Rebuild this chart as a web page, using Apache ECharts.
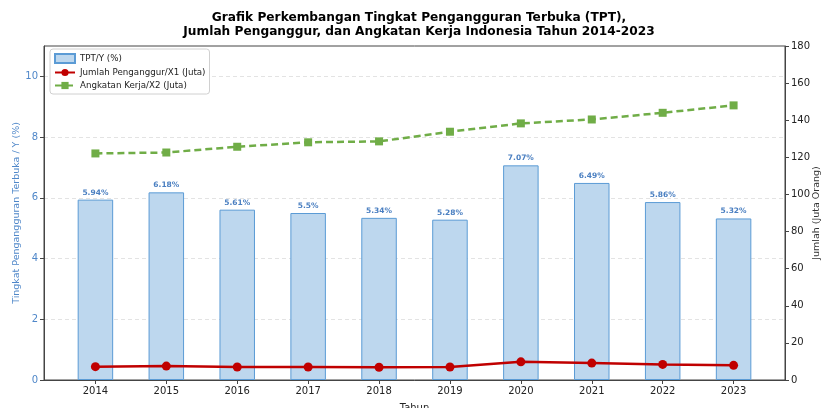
<!DOCTYPE html>
<html>
<head>
<meta charset="utf-8">
<script src="https://cdn.jsdelivr.net/npm/echarts@6/dist/echarts.min.js"></script>
<style>
html,body{margin:0;padding:0;background:#fff;}
#main{width:821px;height:408px;}
</style>
</head>
<body>
<div id="main"></div>
<script>
const years = ['2014','2015','2016','2017','2018','2019','2020','2021','2022','2023'];
const tpt = [5.94, 6.18, 5.61, 5.5, 5.34, 5.28, 7.07, 6.49, 5.86, 5.32];
const penganggur = [7.2, 7.5, 7.0, 7.0, 6.9, 7.0, 9.8, 9.1, 8.4, 7.9];
const angkatanKerja = [122.1, 122.6, 125.7, 128.1, 128.6, 133.8, 138.3, 140.4, 144.0, 148.0];
const leftTicks = [0, 2, 4, 6, 8, 10];

const idx = years.map((_, i) => i);
const font = 'DejaVu Sans';
const blueText = '#4f87c9';

const chart = echarts.init(document.getElementById('main'), null, {renderer: 'canvas'});
chart.setOption({
  animation: false,
  backgroundColor: '#fff',
  textStyle: {fontFamily: font},
  title: {
    text: 'Grafik Perkembangan Tingkat Pengangguran Terbuka (TPT),\nJumlah Penganggur, dan Angkatan Kerja Indonesia Tahun 2014-2023',
    left: 414, top: 6, textAlign: 'center',
    textStyle: {fontFamily: font, fontSize: 12.2, fontWeight: 'bold', color: '#000', lineHeight: 14}
  },
  legend: {
    left: 50, top: 49, orient: 'vertical',
    backgroundColor: '#fff', borderColor: '#d0d0d0', borderWidth: 1, borderRadius: 3,
    padding: [4, 4, 4, 4], itemGap: 4, itemWidth: 20, itemHeight: 9,
    textStyle: {fontFamily: font, fontSize: 8.7, color: '#222'},
    data: [
      {name: 'TPT/Y (%)', icon: 'rect'},
      {name: 'Jumlah Penganggur/X1 (Juta)'},
      {name: 'Angkatan Kerja/X2 (Juta)'}
    ]
  },
  grid: {left: 44, right: 36, top: 46, bottom: 28, outerBoundsMode: 'none', containLabel: false,
         show: true, borderColor: '#444', borderWidth: 1, backgroundColor: 'transparent'},
  xAxis: {
    type: 'value', min: -0.725, max: 9.725,
    name: 'Tahun', nameLocation: 'middle', nameGap: 23, nameMoveOverlap: false,
    nameTextStyle: {fontFamily: font, fontSize: 10, color: '#222'},
    axisLine: {show: true, onZero: false, lineStyle: {color: '#444'}},
    axisTick: {show: true, customValues: idx, length: 4, lineStyle: {color: '#444'}},
    axisLabel: {customValues: idx, formatter: v => years[Math.round(v)], fontFamily: font, fontSize: 10, color: '#222', margin: 6},
    splitLine: {show: false}
  },
  yAxis: [
    {
      type: 'value', min: 0, max: 11, interval: 2, position: 'left',
      name: 'Tingkat Pengangguran Terbuka / Y (%)', nameLocation: 'middle', nameGap: 22, nameRotate: 90,
      nameMoveOverlap: false,
      nameTextStyle: {fontFamily: font, fontSize: 9.5, color: blueText},
      axisLine: {show: true, onZero: false, lineStyle: {color: '#444'}},
      axisTick: {show: true, customValues: leftTicks, length: 4, lineStyle: {color: '#444'}},
      axisLabel: {customValues: leftTicks, fontFamily: font, fontSize: 10, color: blueText, margin: 6},
      splitLine: {show: true, lineStyle: {color: '#e3e3e3', type: [4, 3], width: 1}}
    },
    {
      type: 'value', min: 0, max: 180, interval: 20, position: 'right',
      name: 'Jumlah (Juta Orang)', nameLocation: 'middle', nameGap: 27, nameRotate: 90,
      nameMoveOverlap: false,
      nameTextStyle: {fontFamily: font, fontSize: 9.5, color: '#333'},
      axisLine: {show: true, onZero: false, lineStyle: {color: '#444'}},
      axisTick: {show: true, length: 4, lineStyle: {color: '#444'}},
      axisLabel: {fontFamily: font, fontSize: 10, color: '#222', margin: 6},
      splitLine: {show: false}
    }
  ],
  series: [
    {
      name: 'TPT/Y (%)', type: 'bar', xAxisIndex: 0, yAxisIndex: 0,
      barWidth: 35.5,
      data: tpt.map((v, i) => [i, v]),
      itemStyle: {color: '#bdd7ee', borderColor: '#5b9bd5', borderWidth: 1},
      label: {
        show: true, position: 'top', distance: 3,
        formatter: p => String(p.value[1]) + '%',
        fontFamily: font, fontSize: 7.5, fontWeight: 'bold', color: '#4a7fc1'
      },
      z: 1
    },
    {
      name: 'Jumlah Penganggur/X1 (Juta)', type: 'line', xAxisIndex: 0, yAxisIndex: 1,
      data: penganggur.map((v, i) => [i, v]),
      symbol: 'circle', symbolSize: 9,
      lineStyle: {color: '#c00000', width: 2.5},
      itemStyle: {color: '#c00000'},
      z: 3
    },
    {
      name: 'Angkatan Kerja/X2 (Juta)', type: 'line', xAxisIndex: 0, yAxisIndex: 1,
      data: angkatanKerja.map((v, i) => [i, v]),
      symbol: 'rect', symbolSize: 8,
      lineStyle: {color: '#70ad47', width: 2.5, type: [7, 4]},
      itemStyle: {color: '#70ad47'},
      z: 3
    }
  ]
});
</script>
</body>
</html>
